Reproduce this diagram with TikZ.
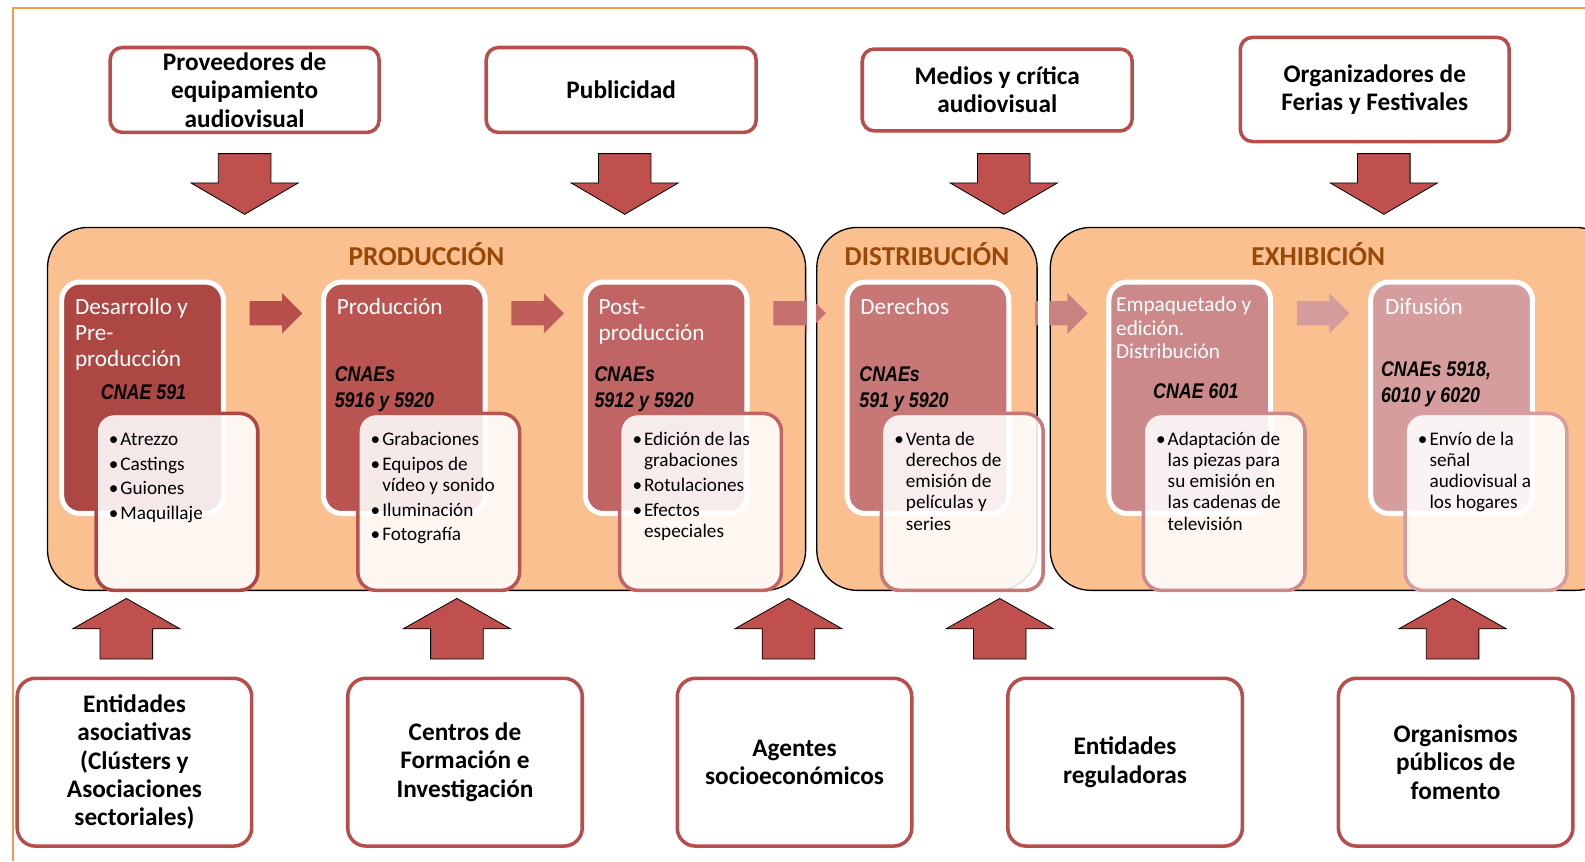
\documentclass[tikz,border=0pt]{standalone}
\usepackage{fontspec}
\setmainfont{Carlito}
\newfontfamily\cnaefont[FakeStretch=0.84]{Liberation Sans}
\definecolor{frameor}{HTML}{F2994A}
\definecolor{boxred}{HTML}{B84E4B}
\definecolor{arrred}{HTML}{C0504D}
\definecolor{phasefill}{HTML}{FAC090}
\definecolor{phasetitle}{HTML}{984807}
\definecolor{cA}{HTML}{AD4744}
\definecolor{cB}{HTML}{B95451}
\definecolor{cC}{HTML}{C06563}
\definecolor{cD}{HTML}{C67776}
\definecolor{cE}{HTML}{CC8989}
\definecolor{cF}{HTML}{D59D9D}
\definecolor{aA}{HTML}{B84F4C}
\definecolor{aB}{HTML}{BE5D5A}
\definecolor{aC}{HTML}{C5706E}
\definecolor{aD}{HTML}{CA8281}
\definecolor{aE}{HTML}{D59C9C}
\newcommand\bitem{\llap{\textbullet\hspace{2pt}}}
\tikzset{
  topbox/.style={draw=boxred, line width=3.5pt, rounded corners=12pt, fill=white,
    align=center, font=\bfseries\fontsize{25}{28}\selectfont, inner sep=0pt},
  botbox/.style={topbox, rounded corners=18pt, minimum width=232pt, minimum height=166pt},
  phasebox/.style={draw=black, line width=1.3pt, fill=phasefill, rounded corners=40pt, inner sep=0pt},
  phasetxt/.style={anchor=base, text=phasetitle, font=\bfseries\fontsize{27}{30}\selectfont, inner sep=0pt},
  stagecard/.style={draw=white, line width=5pt, rounded corners=18pt, minimum width=160pt, minimum height=229pt, inner sep=0pt},
  detailcard/.style={line width=3.5pt, rounded corners=18pt, fill=white, fill opacity=0.88, draw opacity=1,
    minimum width=160pt, minimum height=175pt, inner sep=0pt},
  titletxt/.style={anchor=base west, align=left, text=white, inner sep=0pt, font=\fontsize{23}{26}\selectfont},
  cnaetxt/.style={anchor=base west, align=left, text=black, inner sep=0pt, font=\cnaefont\bfseries\itshape\fontsize{21}{26}\selectfont},
  listtxt/.style={anchor=base west, align=left, text=black, inner sep=0pt, font=\fontsize{19}{21}\selectfont},
  blockarrow/.style={fill=arrred, draw=black, line width=0.8pt},
}
\begin{document}
\begin{tikzpicture}[x=1pt,y=-1pt]
\useasboundingbox (0,0) rectangle (1568,852);
\clip (0,0) rectangle (1568,852);
\fill[white] (0,0) rectangle (1568,852);
% orange frame
\draw[frameor, line width=1.6pt] (13,852) -- (13,8) -- (1570,8);

% top boxes
\node[topbox, minimum width=266pt, minimum height=84pt] (prov) at (242,89) {Proveedores de\\equipamiento\\audiovisual};
\node[topbox, minimum width=267pt, minimum height=84pt] (publ) at (614.5,89) {Publicidad};
\node[topbox, minimum width=267pt, minimum height=81pt] (medi) at (986.5,89) {Medios y crítica\\audiovisual};
\node[topbox, minimum width=266pt, minimum height=103pt] (orga) at (1360,88.5) {Organizadores de\\Ferias y Festivales};

% down arrows
\foreach \cx in {242,618,993,1369}{
  \draw[blockarrow] (\cx-26,152) -- (\cx+26,152) -- (\cx+26,181) -- (\cx+53,181) -- (\cx,212)
     -- (\cx-53,181) -- (\cx-26,181) -- cycle;
}

% phase boxes
\node[phasebox, minimum width=750pt, minimum height=359pt] (prod) at (422,404.5) {};
\node[phasebox, minimum width=218pt, minimum height=359pt] (dist) at (917,404.5) {};
\node[phasebox, minimum width=560pt, minimum height=359pt] (exhi) at (1319,404.5) {};
\node[phasetxt] (tprod) at (422,263) {PRODUCCIÓN};
\node[phasetxt] (tdist) at (917,263) {DISTRIBUCIÓN};
\node[phasetxt] (texhi) at (1304,263) {EXHIBICIÓN};

% horizontal arrows
\foreach \s/\col in {247/aA,506/aB,765/aC,1024/aD,1283/aE}{
  \fill[\col] (\s,298) -- (\s+32,298) -- (\s+32,290) -- (\s+52,310) -- (\s+32,330)
     -- (\s+32,322) -- (\s,322) -- cycle;
}
% white gaps between phase boxes
\fill[white] (797.9,286) rectangle (807.1,334);
\fill[white] (1026.9,286) rectangle (1038.1,334);

% stage cards
\node[stagecard, fill=cA] (s1) at (141,393.5) {};
\node[stagecard, fill=cB] (s2) at (400,393.5) {};
\node[stagecard, fill=cC] (s3) at (659,393.5) {};
\node[stagecard, fill=cD] (s4) at (918,393.5) {};
\node[stagecard, fill=cE] (s5) at (1177,393.5) {};
\node[stagecard, fill=cF] (s6) at (1436,393.5) {};

\node[titletxt] (t1) at (74,363) {Desarrollo y\\Pre-\\producción};
\node[cnaetxt, anchor=base] (n1) at (142,395) {CNAE 591};
\node[titletxt] (t2) at (333,311) {Producción};
\node[cnaetxt] (n2) at (331,403) {CNAEs\\5916 y 5920};
\node[titletxt] (t3) at (592,337) {Post-\\producción};
\node[cnaetxt] (n3) at (588,403) {CNAEs\\5912 y 5920};
\node[titletxt] (t4) at (851,311) {Derechos};
\node[cnaetxt] (n4) at (850,403) {CNAEs\\591 y 5920};
\node[titletxt, font=\fontsize{21}{23.5}\selectfont] (t5) at (1104,355) {Empaquetado y\\edición.\\Distribución};
\node[cnaetxt, anchor=base] (n5) at (1183,394) {CNAE 601};
\node[titletxt] (t6) at (1370,311) {Difusión};
\node[cnaetxt] (n6) at (1366,398) {CNAEs 5918,\\6010 y 6020};

% detail cards
\node[detailcard, draw=cA] (d1) at (175,496.5) {};
\node[detailcard, draw=cB] (d2) at (434,496.5) {};
\node[detailcard, draw=cC] (d3) at (693,496.5) {};
\node[detailcard, draw=cD] (d4) at (952,496.5) {};
\node[detailcard, draw=cE] (d5) at (1211,496.5) {};
\node[detailcard, draw=cF] (d6) at (1470,496.5) {};

\node[listtxt, font=\fontsize{19}{24.5}\selectfont] (l1) at (119,514) {\bitem Atrezzo\\\bitem Castings\\\bitem Guiones\\\bitem Maquillaje};
\node[listtxt] (l2) at (378,535) {\bitem Grabaciones\\[3.5pt]\bitem Equipos de\\vídeo y sonido\\[3.5pt]\bitem Iluminación\\[3.5pt]\bitem Fotografía};
\node[listtxt] (l3) at (637,531.5) {\bitem Edición de las\\grabaciones\\[3.5pt]\bitem Rotulaciones\\[3.5pt]\bitem Efectos\\especiales};
\node[listtxt] (l4) at (896,524.5) {\bitem Venta de\\derechos de\\emisión de\\películas y\\series};
\node[listtxt] (l5) at (1155,524.5) {\bitem Adaptación de\\las piezas para\\su emisión en\\las cadenas de\\televisión};
\node[listtxt] (l6) at (1414,503.5) {\bitem Envío de la\\señal\\audiovisual a\\los hogares};

% up arrows
\foreach \cx in {125,452,780,989,1437}{
  \draw[blockarrow] (\cx-26,652) -- (\cx+26,652) -- (\cx+26,622) -- (\cx+53,622) -- (\cx,592)
     -- (\cx-53,622) -- (\cx-26,622) -- cycle;
}

% bottom boxes
\node[botbox] (enti) at (133,754) {Entidades\\asociativas\\(Clústers y\\Asociaciones\\sectoriales)};
\node[botbox] (cent) at (460,754) {Centros de\\Formación e\\Investigación};
\node[botbox] (agen) at (786,754) {Agentes\\socioeconómicos};
\node[botbox] (regu) at (1113,754) {Entidades\\reguladoras};
\node[botbox] (orgp) at (1440,754) {Organismos\\públicos de\\fomento};
\end{tikzpicture}
\end{document}
